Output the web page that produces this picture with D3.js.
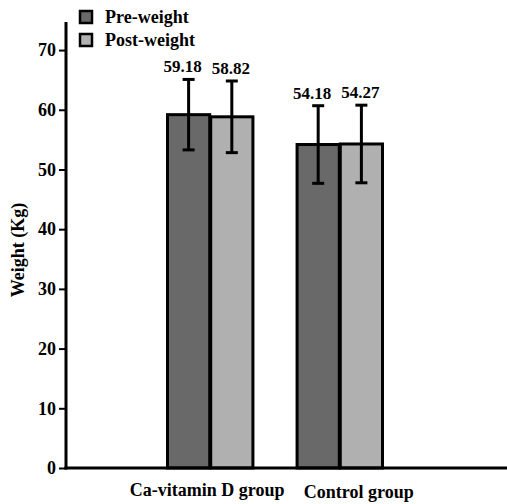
<!DOCTYPE html>
<html>
<head>
<meta charset="utf-8">
<script src="https://cdn.jsdelivr.net/npm/d3@7"></script>
<style>
  body { margin: 0; background: #fff; }
  svg text { font-family: "Liberation Serif", "DejaVu Serif", "Times New Roman", serif !important; font-weight: bold; fill: #000; }
</style>
</head>
<body>
<div id="chart"></div>
<script>
// data
var groups    = ['Ca-vitamin D group', 'Control group']
var series    = ['Pre-weight', 'Post-weight']
var means     = [[59.18, 58.82], [54.18, 54.27]]
var sds       = [[5.9, 6.0], [6.5, 6.5]]
var yTicks    = [0, 10, 20, 30, 40, 50, 60, 70]
var colors    = ['#696969', '#b0b0b0']

var W = 507, H = 504

var svg = d3.select('#chart').append('svg')
    .attr('width', W)
    .attr('height', H)
    .attr('font-family', '"Liberation Serif", serif')

// scales
var y = d3.scaleLinear().domain([0, 74.7]).range([468, 22])
var x0 = d3.scaleBand().domain(groups).range([166, 382]).paddingInner(0.333)
var x1 = d3.scaleBand().domain(series).range([0, x0.bandwidth()]).padding(0)

// bars
var rows = []
groups.forEach(function(g, i) {
    series.forEach(function(s, j) {
        rows.push({ group: g, series: s, mean: means[i][j], sd: sds[i][j], j: j })
    })
})

var bar = svg.selectAll('g.bar').data(rows).enter()
    .append('g')
    .attr('class', 'bar')
    .attr('transform', d => 'translate(' + (x0(d.group) + x1(d.series)) + ',0)')

bar.append('rect')
    .attr('x', 1.5)
    .attr('y', d => y(d.mean))
    .attr('width', x1.bandwidth() - 1)
    .attr('height', d => y(0) - y(d.mean))
    .attr('fill', d => colors[d.j])
    .attr('stroke', '#000')
    .attr('stroke-width', 3)

// error bars
var cx = x1.bandwidth() / 2 + 1
bar.append('line')
    .attr('x1', cx).attr('x2', cx)
    .attr('y1', d => y(d.mean + d.sd))
    .attr('y2', d => y(d.mean - d.sd))
    .attr('stroke', '#000').attr('stroke-width', 3)
bar.append('line')
    .attr('x1', cx - 6).attr('x2', cx + 6)
    .attr('y1', d => y(d.mean + d.sd)).attr('y2', d => y(d.mean + d.sd))
    .attr('stroke', '#000').attr('stroke-width', 3)
bar.append('line')
    .attr('x1', cx - 6).attr('x2', cx + 6)
    .attr('y1', d => y(d.mean - d.sd)).attr('y2', d => y(d.mean - d.sd))
    .attr('stroke', '#000').attr('stroke-width', 3)

// value labels
var labOff = [-6, -1]
bar.append('text')
    .attr('x', d => cx + labOff[d.j])
    .attr('y', d => y(d.mean + d.sd) - 7)
    .attr('text-anchor', 'middle')
    .style('font-size', '17px')
    .text(d => d.mean.toFixed(2))

// y axis
var yAxis = svg.append('g')
    .attr('transform', 'translate(66,0)')
    .call(d3.axisLeft(y).tickValues(yTicks).tickSize(7).tickPadding(3))
yAxis.select('.domain').attr('d', 'M0,' + y(74.7) + 'V' + (y(0) + 1.5)).attr('stroke-width', 3)
yAxis.selectAll('.tick line').attr('stroke-width', 2)
yAxis.selectAll('.tick text')
    .style('font-size', '18px')

// x axis line
svg.append('line')
    .attr('x1', 64.5).attr('x2', W)
    .attr('y1', y(0)).attr('y2', y(0))
    .attr('stroke', '#000').attr('stroke-width', 3)

// x labels
var xOff = [-2, 20]
svg.selectAll('text.xlab').data(groups).enter()
    .append('text')
    .attr('class', 'xlab')
    .attr('x', (d, i) => x0(d) + x0.bandwidth() / 2 + xOff[i])
    .attr('y', (d, i) => 496 + i * 2)
    .attr('text-anchor', 'middle')
    .style('font-size', '18px')
    .text(d => d)

// y title
svg.append('text')
    .attr('transform', 'translate(24,250) rotate(-90)')
    .attr('text-anchor', 'middle')
    .style('font-size', '18px')
    .text('Weight (Kg)')

// legend
var leg = svg.selectAll('g.leg').data(series).enter()
    .append('g')
    .attr('class', 'leg')
    .attr('transform', (d, i) => 'translate(80,' + (11 + i * 23) + ')')
leg.append('rect')
    .attr('x', 0).attr('y', 0)
    .attr('width', 12).attr('height', 12)
    .attr('fill', (d, i) => colors[i])
    .attr('stroke', '#000').attr('stroke-width', 2.5)
leg.append('text')
    .attr('x', 25).attr('y', 12)
    .style('font-size', '18px')
    .text(d => d)
</script>
</body>
</html>
